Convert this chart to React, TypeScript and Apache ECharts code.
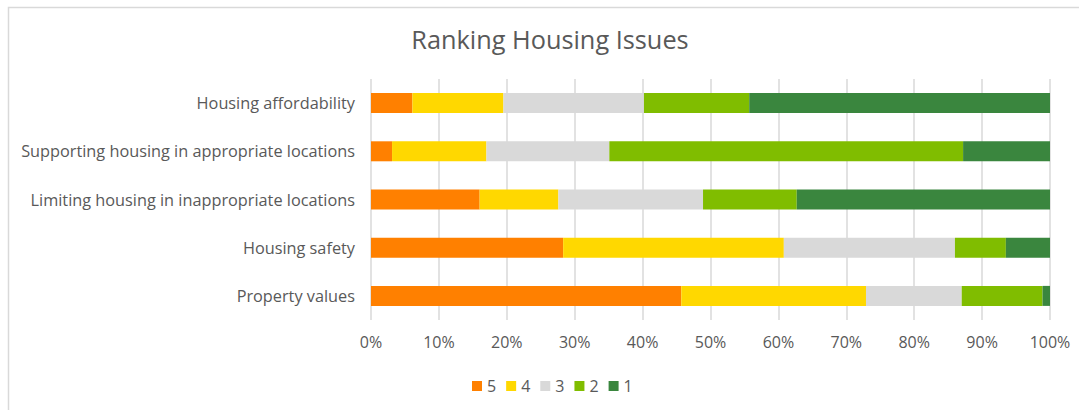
import React, { useEffect, useRef } from "react";
import * as echarts from "echarts";

const categories = [
  "Housing affordability",
  "Supporting housing in appropriate locations",
  "Limiting housing in inappropriate locations",
  "Housing safety",
  "Property values",
];
const seriesNames = ["5", "4", "3", "2", "1"];
const rank5 = [6.1, 3.1, 16.0, 28.3, 45.7];
const rank4 = [13.4, 13.9, 11.6, 32.5, 27.2];
const rank3 = [20.7, 18.1, 21.3, 25.2, 14.1];
const rank2 = [15.5, 52.1, 13.8, 7.5, 11.9];
const rank1 = [44.3, 12.8, 37.3, 6.5, 1.1];
const colors = ["#FF8000", "#FFD800", "#D9D9D9", "#80BD00", "#3A863E"];

export default function App() {
  const ref = useRef<HTMLDivElement>(null);
  useEffect(() => {
    if (!ref.current) return;
    const chart = echarts.init(ref.current, null, { renderer: "svg" });
    const data = [rank5, rank4, rank3, rank2, rank1];
    const font = "'Open Sans', sans-serif";
    chart.setOption({
      animation: false,
      textStyle: { fontFamily: font },
      title: {
        text: "Ranking Housing Issues",
        left: 545,
        top: 21,
        textAlign: "center",
        textStyle: { fontFamily: font, fontSize: 25.3, fontWeight: "normal", color: "#595959" },
      },
      graphic: [
        {
          type: "rect",
          left: 6,
          top: 5,
          shape: { width: 1100, height: 430 },
          style: { fill: "none", stroke: "#D9D9D9", lineWidth: 1.5 },
          silent: true,
        },
      ],
      legend: {
        data: seriesNames,
        left: 467,
        top: 373,
        itemWidth: 10,
        itemHeight: 10,
        itemGap: 10,
        icon: "rect",
        textStyle: { fontFamily: font, fontSize: 16, color: "#595959" },
      },
      grid: { left: 371, right: 29, top: 79, bottom: 90, containLabel: false },
      xAxis: {
        type: "value",
        min: 0,
        max: 100,
        interval: 10,
        axisLabel: {
          formatter: "{value}%",
          fontFamily: font,
          fontSize: 16,
          color: "#595959",
          margin: 14,
        },
        axisLine: { show: false },
        axisTick: { show: false },
        splitLine: { lineStyle: { color: "#D9D9D9", width: 1.5 } },
      },
      yAxis: {
        type: "category",
        data: categories,
        inverse: true,
        axisLabel: { fontFamily: font, fontSize: 16.3, color: "#595959", margin: 16 },
        axisLine: { show: false },
        axisTick: { show: false },
      },
      series: seriesNames.map((name, i) => ({
        name,
        type: "bar",
        stack: "total",
        barWidth: 20,
        data: data[i],
        itemStyle: { color: colors[i] },
      })),
    });
    return () => chart.dispose();
  }, []);
  return (
    <div
      ref={ref}
      style={{ position: "fixed", left: 0, top: 0, width: 1079, height: 410, background: "#fff" }}
    />
  );
}
